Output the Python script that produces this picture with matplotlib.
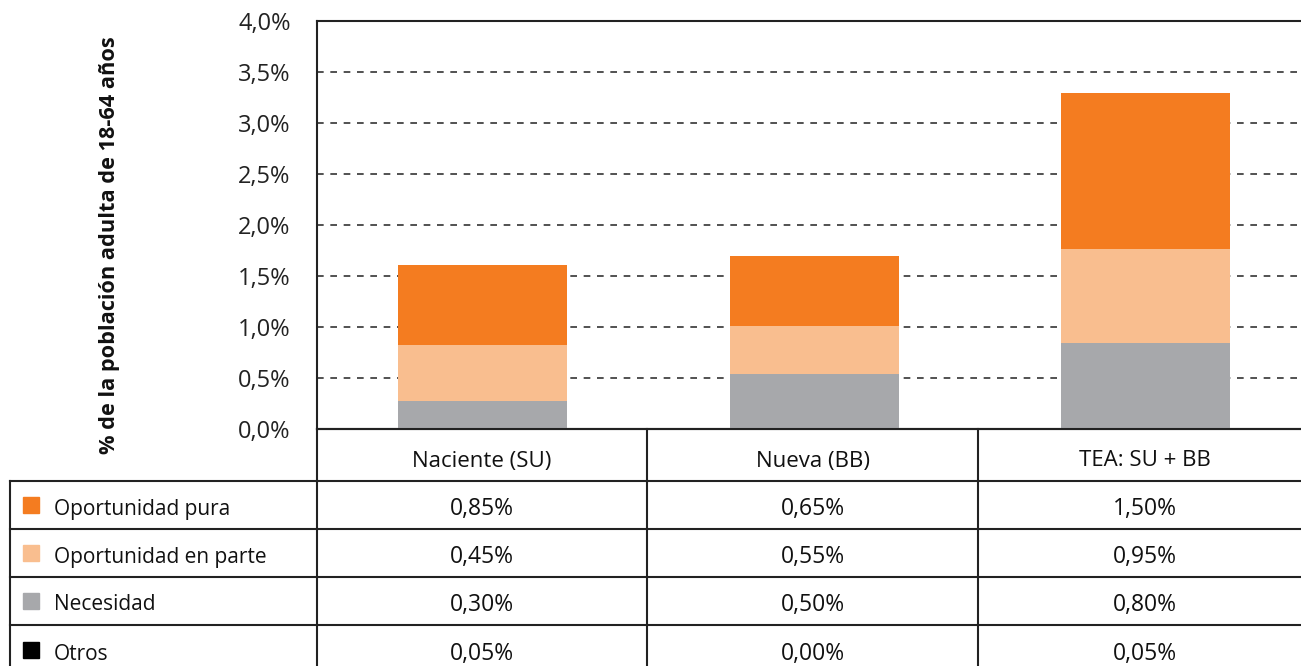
import numpy as np
import matplotlib.pyplot as plt
from matplotlib.ticker import FuncFormatter

plt.rcParams['font.family'] = ['Open Sans', 'DejaVu Sans']

# categories and series
cats = ['Naciente (SU)', 'Nueva (BB)', 'TEA: SU + BB']
series = ['Oportunidad pura', 'Oportunidad en parte', 'Necesidad', 'Otros']
colors = ['#F47C20', '#F9BE8F', '#A7A8AB', '#000000']

# values shown in the table (%)
tbl_pura = [0.85, 0.65, 1.50]
tbl_parte = [0.45, 0.55, 0.95]
tbl_nec = [0.30, 0.50, 0.80]
tbl_otros = [0.05, 0.00, 0.05]

# bar segment heights as drawn (%)
bar_nec = [0.27, 0.54, 0.84]
bar_parte = [0.55, 0.47, 0.92]
bar_pura = [0.79, 0.69, 1.53]

W, H = 1301, 666
fig = plt.figure(figsize=(W/100, H/100), dpi=100)

# axes runs a bit past the right edge, like the original
ax = fig.add_axes([317/W, 1-429/H, (1311.5-317)/W, (429-21)/H])
x = np.arange(len(cats))
bw = 0.51
ax.bar(x, bar_nec, bw, color=colors[2], zorder=3)
ax.bar(x, bar_parte, bw, bottom=bar_nec, color=colors[1], zorder=3)
ax.bar(x, bar_pura, bw, bottom=np.add(bar_nec, bar_parte), color=colors[0], zorder=3)

ax.set_xlim(-0.5, 2.5)
ax.set_ylim(0, 4.0)
ax.set_yticks(np.arange(0, 4.01, 0.5))
ax.yaxis.set_major_formatter(FuncFormatter(lambda v, p: ('%.1f%%' % v).replace('.', ',')))
ax.tick_params(axis='y', length=0, labelsize=17, colors='#222222', pad=19)
ax.set_xticks([])
for yv in np.arange(0.5, 3.6, 0.5):
    ax.axhline(yv, color='#333333', lw=1.2, ls=(0, (4, 4)), zorder=1)
for s in ax.spines.values():
    s.set_color('#222222')
    s.set_linewidth(1.5)
ax.spines['right'].set_visible(False)

fig.text(110/W, 1-245/H, '% de la población adulta de 18-64 años', rotation=90,
         ha='center', va='center', fontsize=15.7, fontweight='bold', color='#111111')

# table drawn in pixel coords
tb = fig.add_axes([0, 0, 1, 1])
tb.set_xlim(0, W)
tb.set_ylim(H, 0)
tb.axis('off')
lc = '#222222'
col_x = [317, 647, 978, 1311.5]
row_y = [481, 529, 577, 625, 673]
# header
for cx in col_x:
    tb.plot([cx, cx], [429, 481], color=lc, lw=1.5)
tb.plot([317, 1301], [429, 429], color=lc, lw=1.5)
for i, c in enumerate(cats):
    tb.text((col_x[i]+col_x[i+1])/2, 461, c, ha='center', va='center', fontsize=16, color='#111111')
# data rows
for cx in [10] + col_x:
    tb.plot([cx, cx], [481, 673], color=lc, lw=1.5)
for ry in row_y[:-1]:
    tb.plot([10, 1301], [ry, ry], color=lc, lw=1.5)
table = [tbl_pura, tbl_parte, tbl_nec, tbl_otros]
for r, (name, vals) in enumerate(zip(series, table)):
    yc = (row_y[r] + row_y[r+1]) / 2 if r < 3 else 650
    tb.add_patch(plt.Rectangle((23, yc-8), 16, 16, color=colors[r]))
    tb.text(54, yc+4, name, ha='left', va='center', fontsize=15, color='#111111')
    for i, v in enumerate(vals):
        tb.text((col_x[i]+col_x[i+1])/2, yc+4, ('%.2f%%' % v).replace('.', ','),
                ha='center', va='center', fontsize=16.5, color='#111111')

fig.savefig('out.png', dpi=100)
